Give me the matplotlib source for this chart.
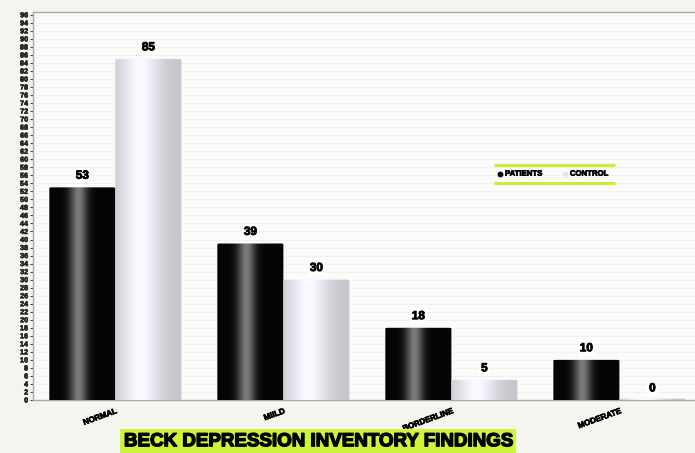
import numpy as np
import matplotlib
matplotlib.use("Agg")
import matplotlib.pyplot as plt
import matplotlib.patheffects as pe
from matplotlib.patches import FancyBboxPatch

categories = ["NORMAL", "MIILD", "BORDERLINE", "MODERATE"]
patients = [53, 39, 18, 10]
control = [85, 30, 5, 0]
series_names = ["PATIENTS", "CONTROL"]
title = "BECK DEPRESSION INVENTORY FINDINGS"

heavy = [pe.withStroke(linewidth=0.6, foreground="black")]

fig = plt.figure(figsize=(6.95, 4.53), dpi=100, facecolor="#f4f5ef")
ax = fig.add_axes([0.0475, 0.117, 0.9525, 0.8565])
ax.set_facecolor("#fbfbf9")

x = np.arange(len(categories))
width = 0.393
ax.set_xlim(-0.49, 3.45)
ax.set_ylim(0, 96.7)


def cylinder_gradient(dark):
    t = np.linspace(0, 1, 256)
    if dark:
        hl = np.exp(-((t - 0.44) / 0.13) ** 2)
        v = 0.02 + 0.46 * hl
        rgb = np.stack([v, v, v], axis=1)
    else:
        hl = np.exp(-((t - 0.38) / 0.3) ** 2)
        v = 0.77 + 0.21 * hl
        rgb = np.stack([v, v, np.minimum(v + 0.03, 1)], axis=1)
    return rgb[None, :, :]


def draw_bar(xc, h, dark):
    x0, x1 = xc - width / 2, xc + width / 2
    top = max(h, 0.35)
    clip = FancyBboxPatch((x0, -0.6), width, top + 0.6,
                          boxstyle="round,pad=0,rounding_size=0.02",
                          mutation_aspect=8, transform=ax.transData,
                          facecolor="none", edgecolor="none")
    ax.add_patch(clip)
    im = ax.imshow(cylinder_gradient(dark), extent=[x0, x1, -0.6, top],
                   aspect="auto", zorder=3, interpolation="bilinear")
    im.set_clip_path(clip)
    im.set_clip_on(True)
    ax.text(xc, h + 1.4, f"{h}", ha="center", va="bottom", fontsize=8.5,
            fontweight="bold", family="Liberation Sans", zorder=5,
            path_effects=heavy,
            bbox=dict(boxstyle="square,pad=0.15", fc="white", ec="none"))


for i in range(len(categories)):
    draw_bar(x[i] - width / 2, patients[i], True)
    draw_bar(x[i] + width / 2, control[i], False)

ax.set_xlim(-0.49, 3.45)
ax.set_ylim(0, 96.7)

ax.set_yticks(np.arange(0, 97, 2))
ax.set_yticklabels([str(v) for v in range(0, 97, 2)], fontsize=5.2,
                   fontweight="bold", family="Liberation Sans")
for lbl in ax.get_yticklabels():
    lbl.set_path_effects([pe.withStroke(linewidth=0.4, foreground="#222222")])
ax.tick_params(axis="y", length=2, width=0.6, pad=1.5, colors="#222222")
ax.yaxis.grid(True, color="#f0f0eb", linewidth=0.6)
ax.set_axisbelow(True)

ax.set_xticks(x)
ax.set_xticklabels(categories, rotation=20, ha="right", fontsize=5.8,
                   fontweight="bold", family="Liberation Sans",
                   rotation_mode="anchor")
for lbl in ax.get_xticklabels():
    lbl.set_path_effects([pe.withStroke(linewidth=0.5, foreground="black")])
ax.tick_params(axis="x", length=0, pad=6)

for side in ["left", "bottom", "top"]:
    ax.spines[side].set_color("#a8a8a8")
    ax.spines[side].set_linewidth(1.0)
ax.spines["right"].set_visible(False)

# legend drawn between two highlight rules
lc = "#c8ee3a"
ax.plot([0.696, 0.879], [0.606, 0.606], transform=ax.transAxes, color=lc,
        lw=2.2, solid_capstyle="butt", zorder=6)
ax.plot([0.696, 0.879], [0.559, 0.559], transform=ax.transAxes, color=lc,
        lw=2.2, solid_capstyle="butt", zorder=6)
ax.plot([0.706], [0.582], "o", transform=ax.transAxes, color="black",
        ms=3.2, zorder=6)
ax.text(0.713, 0.582, series_names[0], transform=ax.transAxes, fontsize=5.6,
        fontweight="bold", va="center", family="Liberation Sans", zorder=6,
        path_effects=[pe.withStroke(linewidth=0.5, foreground="black")])
ax.plot([0.804], [0.582], "o", transform=ax.transAxes, color="#e6e6ea",
        ms=3.2, zorder=6)
ax.text(0.811, 0.582, series_names[1], transform=ax.transAxes, fontsize=5.6,
        fontweight="bold", va="center", family="Liberation Sans", zorder=6,
        path_effects=[pe.withStroke(linewidth=0.5, foreground="black")])

fig.text(0.458, 0.025, title, ha="center", va="center", fontsize=13.5,
         fontweight="bold", family="Liberation Sans",
         path_effects=[pe.withStroke(linewidth=1.0, foreground="black")],
         bbox=dict(boxstyle="square,pad=0.2", fc="#cdf53c", ec="none"))

fig.savefig("out.png", dpi=100, facecolor=fig.get_facecolor())
